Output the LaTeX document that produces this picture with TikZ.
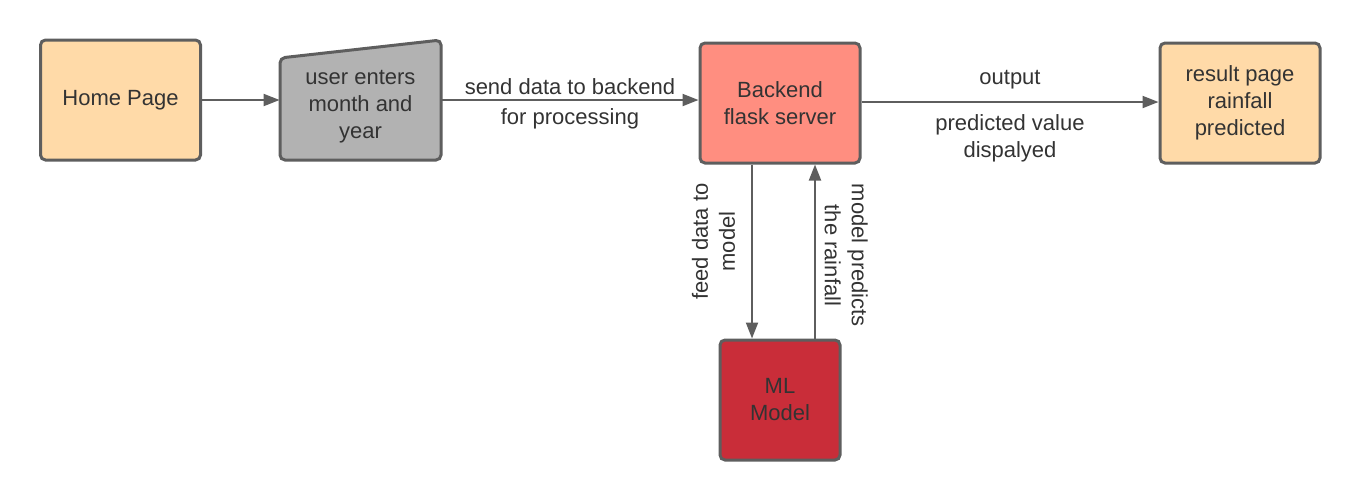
\documentclass[tikz,border=0pt]{standalone}
\usepackage{fontspec}
\setmainfont{Liberation Sans}
\usetikzlibrary{arrows.meta,positioning}
\definecolor{peach}{HTML}{FFDAA8}
\definecolor{greybox}{HTML}{B2B2B2}
\definecolor{salmon}{HTML}{FF8E80}
\definecolor{mlred}{HTML}{C92D39}
\definecolor{edgegrey}{HTML}{5E5E5E}
\definecolor{txt}{HTML}{333333}

\begin{document}
\begin{tikzpicture}[
    x=0.5pt, y=-0.5pt,
    every node/.style={text=txt, font=\fontsize{11}{13.5}\selectfont, align=center},
    block/.style={draw=edgegrey, line width=1.5pt, rounded corners=2.5pt,
      minimum width=80pt, minimum height=60pt, inner sep=0pt},
    arr/.style={draw=edgegrey, line width=1pt, -{Triangle[length=8pt,width=6pt]}},
    lbl/.style={font=\fontsize{11}{15}\selectfont}
    ]
    \useasboundingbox (0,0) rectangle (1360,500);

    % manual input shape
    \draw[draw=edgegrey, fill=greybox, line width=1.5pt, rounded corners=2.5pt]
      (280,58) -- (441,40) -- (441,160) -- (280,160) -- cycle;

    \node[block, fill=peach] (home) at (120.5,100) {Home Page};
    \node[minimum width=80.5pt, minimum height=53pt, inner sep=0pt] (user) at (360.5,107) {user enters\\month and\\year};
    \node[block, fill=salmon] (backend) at (780,103) {Backend\\flask server};
    \node[block, fill=peach] (result) at (1240,103) {result page\\rainfall\\predicted};
    \node[block, fill=mlred, minimum width=60pt] (ml) at (780,400) {ML\\Model};

    \draw[arr] (home.east) -- (home.east -| user.west);
    \draw[arr] (home.east -| user.east) -- (home.east -| backend.west)
      node[midway, lbl, yshift=-2pt] {send data to backend\\for processing};
    \draw[arr] ([yshift=0.5pt]backend.east) -- ([yshift=0.5pt]result.west)
      node[midway, above=2.5pt] {output}
      node[midway, below=2.5pt] {predicted value\\dispalyed};
    \draw[arr] ([xshift=-14pt]backend.south) -- ([xshift=-14pt]ml.north)
      node[midway, rotate=90, anchor=south, inner sep=6pt, yshift=2pt, xshift=5pt] {feed data to\\model};
    \draw[arr] ([xshift=17.5pt]ml.north) -- ([xshift=17.5pt]backend.south)
      node[midway, rotate=-90, anchor=south, yshift=1pt, xshift=2pt] {model predicts\\the rainfall};
\end{tikzpicture}
\end{document}
